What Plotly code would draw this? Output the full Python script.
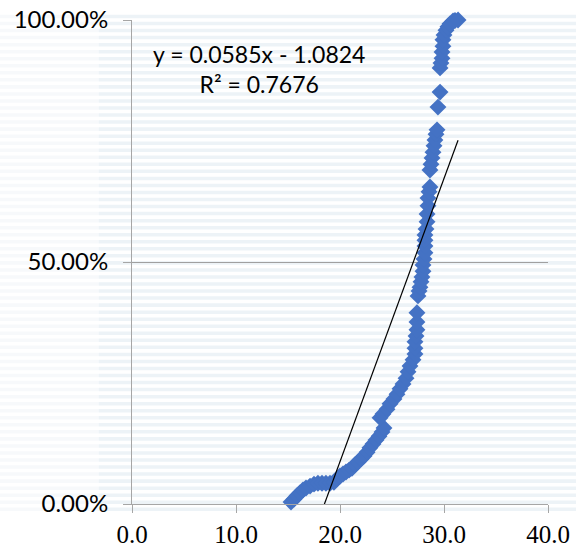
import plotly.graph_objects as go

# ---- data ----
x_vals = [15.29, 15.58, 15.87, 16.15, 16.44, 16.73, 17.12, 17.50, 17.88, 18.27,
          18.65, 19.04, 19.42, 19.71, 20.00, 20.29, 20.58, 20.87, 21.15, 21.44,
          21.73, 22.02, 22.31, 22.60, 22.88, 23.17, 23.46, 23.75, 24.04, 24.23,
          23.85, 24.13, 24.52, 24.81, 25.19, 25.48, 25.77, 26.06, 26.35, 26.54,
          26.73, 27.02, 27.21, 27.21, 27.21, 27.31, 27.40, 27.40, 27.40, 27.50,
          27.60, 27.69, 27.79, 27.88, 27.98, 27.98, 28.08, 28.17, 28.17, 28.17,
          28.17, 28.27, 28.37, 28.37, 28.46, 28.46, 28.56, 28.65, 28.65, 28.75,
          28.85, 28.94, 29.04, 29.13, 29.23, 29.33, 29.42, 29.62, 29.62, 29.71,
          29.81, 29.81, 29.90, 29.90, 30.00, 30.19, 30.38, 30.58, 30.87, 31.06,
          31.35]
y_vals = [0.004, 0.010, 0.017, 0.023, 0.029, 0.033, 0.037, 0.041, 0.043, 0.043,
          0.043, 0.043, 0.045, 0.052, 0.058, 0.062, 0.066, 0.070, 0.074, 0.081,
          0.087, 0.093, 0.099, 0.107, 0.116, 0.124, 0.132, 0.140, 0.149, 0.157,
          0.178, 0.186, 0.196, 0.207, 0.217, 0.227, 0.238, 0.248, 0.260, 0.273,
          0.285, 0.298, 0.310, 0.322, 0.335, 0.347, 0.360, 0.376, 0.395, 0.430,
          0.440, 0.448, 0.459, 0.469, 0.481, 0.494, 0.506, 0.519, 0.533, 0.545,
          0.556, 0.568, 0.583, 0.599, 0.616, 0.632, 0.645, 0.655, 0.690, 0.702,
          0.715, 0.727, 0.740, 0.752, 0.764, 0.773, 0.820, 0.851, 0.901, 0.911,
          0.921, 0.934, 0.946, 0.959, 0.969, 0.979, 0.986, 0.992, 0.998, 0.999,
          1.000]
trend_slope = 0.0585
trend_intercept = -1.0824
trend_r2 = 0.7676
x_ticks = [0, 10, 20, 30, 40]
x_tick_labels = ["0.0", "10.0", "20.0", "30.0", "40.0"]
y_ticks = [0, 0.5, 1.0]
y_tick_labels = ["0.00%", "50.00%", "100.00%"]

# trendline over the data x-range
x_min, x_max = min(x_vals), max(x_vals)
trend_x = [x_min, x_max]
trend_y = [trend_slope * v + trend_intercept for v in trend_x]

fig = go.Figure()
fig.add_trace(go.Scatter(
    x=x_vals, y=y_vals, mode="markers",
    marker=dict(symbol="diamond", size=13, color="#4472C4", line=dict(width=0)),
    cliponaxis=False, showlegend=False, hoverinfo="skip"))
fig.add_trace(go.Scatter(
    x=trend_x, y=trend_y, mode="lines",
    line=dict(color="black", width=1.2), showlegend=False, hoverinfo="skip"))

# faint horizontal striped background
W, H = 576, 550
shapes = []
period = 8
for k in range(-1, H // period + 2):
    y0 = 1 - (k * period + 2) / H
    y1 = 1 - (k * period + 6) / H
    shapes.append(dict(type="rect", xref="paper", yref="paper", layer="below",
                       x0=-0.32, x1=-0.08, y0=y1, y1=y0,
                       fillcolor="#F7F9FB", line=dict(width=0)))
    shapes.append(dict(type="rect", xref="paper", yref="paper", layer="below",
                       x0=-0.08, x1=1.08, y0=y1, y1=y0,
                       fillcolor="#EDF3F7", line=dict(width=0)))

eq_text = "y = %.4fx - %.4f<br>R² = %.4f" % (trend_slope, -trend_intercept, trend_r2)

fig.update_layout(
    width=W, height=H,
    margin=dict(l=132, r=28, t=20, b=46),
    paper_bgcolor="white", plot_bgcolor="rgba(0,0,0,0)",
    shapes=shapes,
    annotations=[dict(x=12.2, y=0.898, xref="x", yref="y", text=eq_text,
                      showarrow=False, align="center",
                      font=dict(family="Lato, Carlito, sans-serif", size=23, color="black"))],
    xaxis=dict(range=[0, 40], tickvals=x_ticks, ticktext=x_tick_labels,
               showgrid=False, zeroline=False, showline=True, linecolor="#A6A6A6",
               linewidth=1, ticks="outside", ticklen=8, tickcolor="#A6A6A6",
               tickfont=dict(family="Liberation Serif, Times New Roman, serif", size=25, color="black"),
               ticklabelstandoff=0, automargin=False, ticklabeloverflow="allow"),
    yaxis=dict(range=[0, 1], tickvals=y_ticks, ticktext=y_tick_labels,
               showgrid=True, gridcolor="#A0A0A0", gridwidth=1, zeroline=False,
               showline=True, linecolor="#A6A6A6", linewidth=1,
               ticks="outside", ticklen=8, tickcolor="#A6A6A6",
               tickfont=dict(family="Lato, Carlito, sans-serif", size=24, color="black"),
               ticklabelstandoff=10, automargin=False, ticklabeloverflow="allow"),
)

fig.write_html("out.html", config={"displayModeBar": False},
               post_script="document.body.style.margin='0';document.body.style.overflow='hidden';")
